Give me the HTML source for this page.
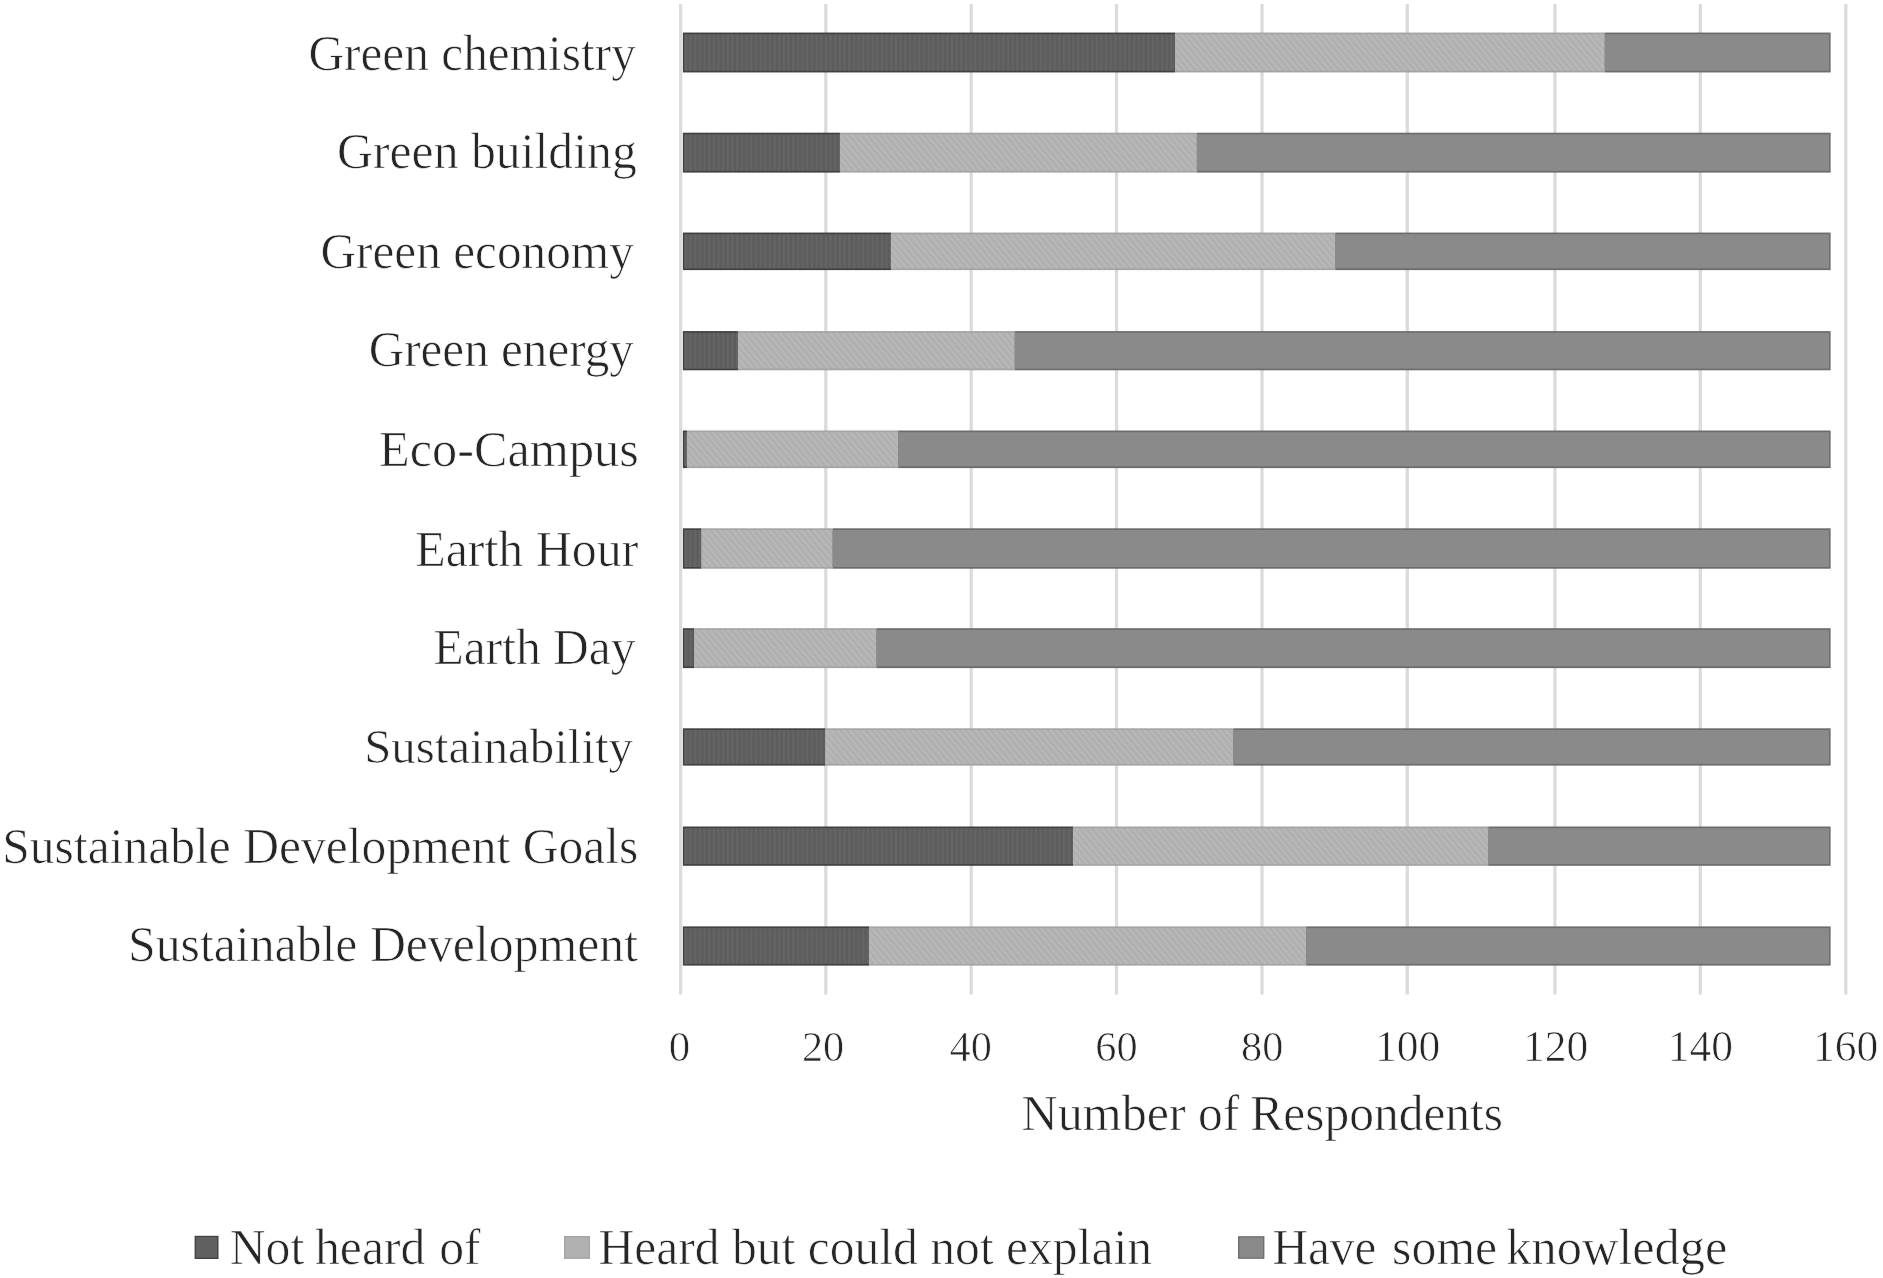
<!DOCTYPE html>
<html><head><meta charset="utf-8"><title>Chart</title>
<style>
html,body{margin:0;padding:0;background:#fff;}
body{width:1883px;height:1278px;overflow:hidden;}
svg{display:block;will-change:transform;filter:blur(0.45px);}
text{font-family:"Liberation Serif",serif;fill:#262626;stroke:#ffffff;stroke-width:0.7px;}
</style></head><body>
<svg width="1883" height="1278" viewBox="0 0 1883 1278">
<defs>
<pattern id="pd" patternUnits="userSpaceOnUse" width="4.67" height="10"><rect width="4.67" height="10" fill="#646464"/><rect x="0.6" width="2.2" height="10" fill="#5c5c5c"/></pattern>
<pattern id="pl" patternUnits="userSpaceOnUse" width="4.8" height="10" patternTransform="rotate(-40)"><rect width="4.8" height="10" fill="#b8b8b8"/><rect x="0.6" width="2.3" height="10" fill="#afafaf"/></pattern>
</defs>
<rect x="0" y="0" width="1883" height="1278" fill="#ffffff"/>
<g stroke="#dbdbdb" stroke-width="3.3">
<line x1="680.60" y1="4" x2="680.60" y2="994.5"/>
<line x1="825.80" y1="4" x2="825.80" y2="994.5"/>
<line x1="971.20" y1="4" x2="971.20" y2="994.5"/>
<line x1="1116.50" y1="4" x2="1116.50" y2="994.5"/>
<line x1="1262.00" y1="4" x2="1262.00" y2="994.5"/>
<line x1="1407.30" y1="4" x2="1407.30" y2="994.5"/>
<line x1="1554.90" y1="4" x2="1554.90" y2="994.5"/>
<line x1="1700.30" y1="4" x2="1700.30" y2="994.5"/>
<line x1="1845.80" y1="4" x2="1845.80" y2="994.5"/>
</g>
<g>
<rect x="682.90" y="32.55" width="492.13" height="39.90" fill="#414141"/>
<rect x="684.20" y="34.25" width="490.83" height="36.50" fill="url(#pd)"/>
<rect x="1175.03" y="32.55" width="429.77" height="39.90" fill="#a4a4a4"/>
<rect x="1175.03" y="34.25" width="429.77" height="36.50" fill="url(#pl)"/>
<rect x="1604.81" y="32.55" width="225.81" height="39.90" fill="#6c6c6c"/>
<rect x="1604.81" y="34.25" width="224.31" height="36.50" fill="#8a8a8a"/>
<text transform="translate(635.80,70.16) scale(1,1.010)" font-size="49.35" text-anchor="end">Green chemistry</text>
</g>
<g>
<rect x="682.90" y="132.70" width="157.05" height="39.90" fill="#414141"/>
<rect x="684.20" y="134.40" width="155.75" height="36.50" fill="url(#pd)"/>
<rect x="839.95" y="132.70" width="356.93" height="39.90" fill="#a4a4a4"/>
<rect x="839.95" y="134.40" width="356.93" height="36.50" fill="url(#pl)"/>
<rect x="1196.89" y="132.70" width="633.73" height="39.90" fill="#6c6c6c"/>
<rect x="1196.89" y="134.40" width="632.23" height="36.50" fill="#8a8a8a"/>
<text transform="translate(636.80,168.07) scale(1,1.010)" font-size="49.75" text-anchor="end">Green building</text>
</g>
<g>
<rect x="682.90" y="232.55" width="208.04" height="37.55" fill="#414141"/>
<rect x="684.20" y="234.25" width="206.74" height="34.15" fill="url(#pd)"/>
<rect x="890.94" y="232.55" width="444.34" height="37.55" fill="#a4a4a4"/>
<rect x="890.94" y="234.25" width="444.34" height="34.15" fill="url(#pl)"/>
<rect x="1335.29" y="232.55" width="495.33" height="37.55" fill="#6c6c6c"/>
<rect x="1335.29" y="234.25" width="493.83" height="34.15" fill="#8a8a8a"/>
<text transform="translate(633.80,268.00) scale(1,1.010)" font-size="49.3" text-anchor="end">Green economy</text>
</g>
<g>
<rect x="682.90" y="331.10" width="55.07" height="39.20" fill="#414141"/>
<rect x="684.20" y="332.80" width="53.77" height="35.80" fill="url(#pd)"/>
<rect x="737.97" y="331.10" width="276.80" height="39.20" fill="#a4a4a4"/>
<rect x="737.97" y="332.80" width="276.80" height="35.80" fill="url(#pl)"/>
<rect x="1014.78" y="331.10" width="815.84" height="39.20" fill="#6c6c6c"/>
<rect x="1014.78" y="332.80" width="814.34" height="35.80" fill="#8a8a8a"/>
<text transform="translate(633.80,365.98) scale(1,1.010)" font-size="49.15" text-anchor="end">Green energy</text>
</g>
<g>
<rect x="682.90" y="430.50" width="4.08" height="37.60" fill="#414141"/>
<rect x="684.20" y="432.20" width="2.78" height="34.20" fill="url(#pd)"/>
<rect x="686.98" y="430.50" width="211.24" height="37.60" fill="#a4a4a4"/>
<rect x="686.98" y="432.20" width="211.24" height="34.20" fill="url(#pl)"/>
<rect x="898.23" y="430.50" width="932.39" height="37.60" fill="#6c6c6c"/>
<rect x="898.23" y="432.20" width="930.89" height="34.20" fill="#8a8a8a"/>
<text transform="translate(638.80,465.77) scale(1,1.010)" font-size="50.3" text-anchor="end">Eco-Campus</text>
</g>
<g>
<rect x="682.90" y="528.30" width="18.65" height="40.40" fill="#414141"/>
<rect x="684.20" y="530.00" width="17.35" height="37.00" fill="url(#pd)"/>
<rect x="701.55" y="528.30" width="131.12" height="40.40" fill="#a4a4a4"/>
<rect x="701.55" y="530.00" width="131.12" height="37.00" fill="url(#pl)"/>
<rect x="832.67" y="528.30" width="997.95" height="40.40" fill="#6c6c6c"/>
<rect x="832.67" y="530.00" width="996.45" height="37.00" fill="#8a8a8a"/>
<text transform="translate(638.30,565.64) scale(1,1.010)" font-size="49.9" text-anchor="end">Earth Hour</text>
</g>
<g>
<rect x="682.90" y="628.20" width="11.37" height="39.90" fill="#414141"/>
<rect x="684.20" y="629.90" width="10.07" height="36.50" fill="url(#pd)"/>
<rect x="694.27" y="628.20" width="182.11" height="39.90" fill="#a4a4a4"/>
<rect x="694.27" y="629.90" width="182.11" height="36.50" fill="url(#pl)"/>
<rect x="876.38" y="628.20" width="954.24" height="39.90" fill="#6c6c6c"/>
<rect x="876.38" y="629.90" width="952.74" height="36.50" fill="#8a8a8a"/>
<text transform="translate(635.60,663.62) scale(1,1.010)" font-size="49.55" text-anchor="end">Earth Day</text>
</g>
<g>
<rect x="682.90" y="728.30" width="142.49" height="37.30" fill="#414141"/>
<rect x="684.20" y="730.00" width="141.19" height="33.90" fill="url(#pd)"/>
<rect x="825.39" y="728.30" width="407.92" height="37.30" fill="#a4a4a4"/>
<rect x="825.39" y="730.00" width="407.92" height="33.90" fill="url(#pl)"/>
<rect x="1233.31" y="728.30" width="597.31" height="37.30" fill="#6c6c6c"/>
<rect x="1233.31" y="730.00" width="595.81" height="33.90" fill="#8a8a8a"/>
<text transform="translate(633.00,763.13) scale(1,1.010)" font-size="48.9" text-anchor="end">Sustainability</text>
</g>
<g>
<rect x="682.90" y="826.50" width="390.15" height="39.30" fill="#414141"/>
<rect x="684.20" y="828.20" width="388.85" height="35.90" fill="url(#pd)"/>
<rect x="1073.05" y="826.50" width="415.21" height="39.30" fill="#a4a4a4"/>
<rect x="1073.05" y="828.20" width="415.21" height="35.90" fill="url(#pl)"/>
<rect x="1488.26" y="826.50" width="342.36" height="39.30" fill="#6c6c6c"/>
<rect x="1488.26" y="828.20" width="340.86" height="35.90" fill="#8a8a8a"/>
<text transform="translate(638.40,862.79) scale(1,1.010)" font-size="49.6" text-anchor="end">Sustainable Development Goals</text>
</g>
<g>
<rect x="682.90" y="926.40" width="186.19" height="39.20" fill="#414141"/>
<rect x="684.20" y="928.10" width="184.89" height="35.80" fill="url(#pd)"/>
<rect x="869.09" y="926.40" width="437.06" height="39.20" fill="#a4a4a4"/>
<rect x="869.09" y="928.10" width="437.06" height="35.80" fill="url(#pl)"/>
<rect x="1306.15" y="926.40" width="524.47" height="39.20" fill="#6c6c6c"/>
<rect x="1306.15" y="928.10" width="522.97" height="35.80" fill="#8a8a8a"/>
<text transform="translate(638.10,961.18) scale(1,1.010)" font-size="49.8" text-anchor="end">Sustainable Development</text>
</g>
<g>
<text transform="translate(679.50,1061.00) scale(1,1.000)" font-size="43.0" text-anchor="middle">0</text>
<text transform="translate(823.10,1061.00) scale(1,1.000)" font-size="42.3" text-anchor="middle">20</text>
<text transform="translate(970.70,1061.00) scale(1,1.000)" font-size="42.3" text-anchor="middle">40</text>
<text transform="translate(1116.40,1061.00) scale(1,1.000)" font-size="42.3" text-anchor="middle">60</text>
<text transform="translate(1262.20,1061.00) scale(1,1.000)" font-size="42.3" text-anchor="middle">80</text>
<text transform="translate(1407.60,1061.00) scale(1,1.000)" font-size="43.5" text-anchor="middle">100</text>
<text transform="translate(1555.60,1061.00) scale(1,1.000)" font-size="43.5" text-anchor="middle">120</text>
<text transform="translate(1700.30,1061.00) scale(1,1.000)" font-size="43.5" text-anchor="middle">140</text>
<text transform="translate(1845.50,1061.00) scale(1,1.000)" font-size="43.5" text-anchor="middle">160</text>
</g>
<text transform="translate(1021.50,1129.50) scale(1,1.005)" font-size="50.1" text-anchor="start">Number</text>
<text transform="translate(1197.90,1129.50) scale(1,1.005)" font-size="49.5" text-anchor="start">of</text>
<text transform="translate(1250.20,1129.50) scale(1,1.005)" font-size="49.5" text-anchor="start">Respondents</text>
<rect x="194.6" y="1235.8" width="23.9" height="23.2" fill="#414141"/>
<rect x="195.90" y="1237.10" width="21.30" height="20.60" fill="#606060"/>
<text transform="translate(229.70,1263.50) scale(1,1.020)" font-size="49.7" text-anchor="start">Not</text>
<text transform="translate(315.00,1263.50) scale(1,1.020)" font-size="49.7" text-anchor="start">heard</text>
<text transform="translate(439.20,1263.50) scale(1,1.020)" font-size="49.7" text-anchor="start">of</text>
<rect x="564.0" y="1236.0" width="26.0" height="22.9" fill="#a4a4a4"/>
<rect x="565.30" y="1237.30" width="23.40" height="20.30" fill="#b1b1b1"/>
<text transform="translate(598.50,1263.50) scale(1,1.020)" font-size="49.6" text-anchor="start">Heard but could not explain</text>
<rect x="1238.0" y="1236.2" width="26.4" height="22.6" fill="#6c6c6c"/>
<rect x="1239.30" y="1237.50" width="23.80" height="20.00" fill="#8a8a8a"/>
<text transform="translate(1272.40,1263.50) scale(1,1.020)" font-size="49.3" text-anchor="start">Have</text>
<text transform="translate(1392.10,1263.50) scale(1,1.020)" font-size="49.8" text-anchor="start">some</text>
<text transform="translate(1506.30,1263.50) scale(1,1.020)" font-size="50.4" text-anchor="start">knowledge</text>
</svg>
</body></html>
